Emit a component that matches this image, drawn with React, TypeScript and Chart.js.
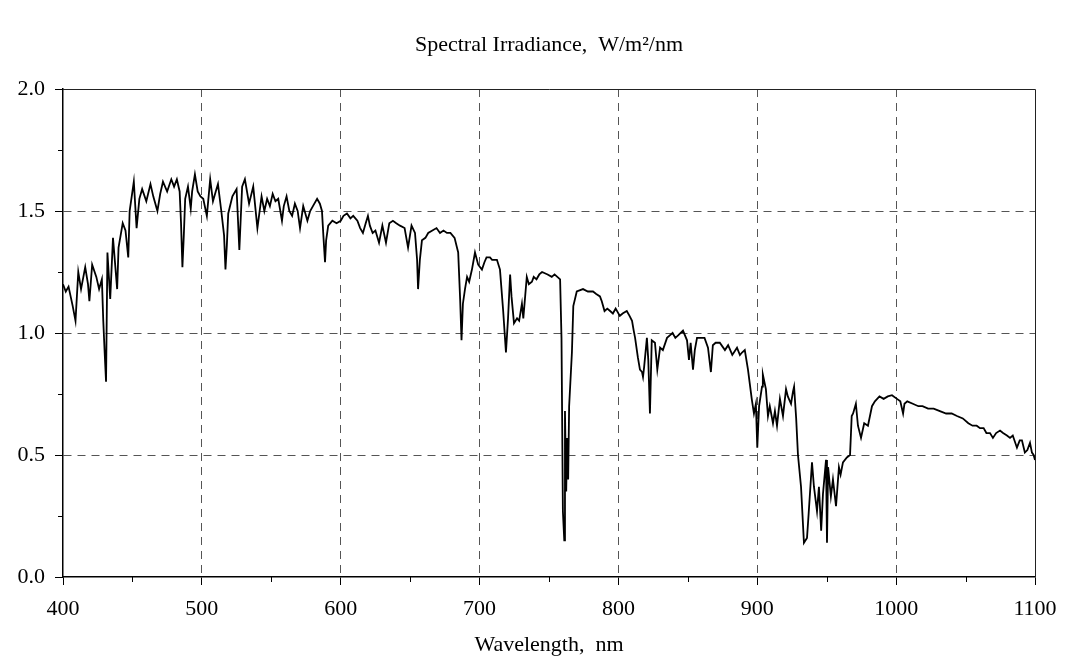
import React, { useEffect, useRef } from 'react';
import { Chart, registerables } from 'chart.js';

Chart.register(...registerables);

const wavelengths = [
  400, 402, 404, 407, 409, 411, 413, 416, 418, 419, 421, 424, 426, 428, 429, 430, 431, 432, 434, 436,
  439, 440, 443, 445, 447, 448, 451, 453, 455, 457, 460, 463, 465, 468, 470, 472, 475, 478, 480, 482,
  484, 485, 486, 487, 488, 490, 492, 493, 495, 497, 499, 501, 503.6, 506, 508, 510, 511.6, 514, 516, 517,
  518, 519, 522, 525, 527, 529, 531, 534, 537, 540, 543, 545, 547, 549, 551, 553, 555, 557.7, 559, 561,
  563, 565, 567, 569, 570.7, 573, 576, 578, 580, 583, 585, 586.5, 587.5, 588.7, 589.5, 591, 594, 597, 600, 602,
  604.5, 607, 609, 612, 614, 616, 618, 619.6, 621, 623, 625, 627.6, 630, 632.6, 635, 637.6, 640, 642.7, 646, 648.5,
  651, 653.5, 655, 655.7, 657, 658.5, 661, 663, 666, 669, 671.5, 674, 676.5, 679, 682, 684.6, 686, 687, 688, 689.5,
  691, 692.5, 694.5, 696.7, 699, 701.7, 703.5, 705, 707.5, 709, 712.5, 714.7, 717, 719, 720.5, 722, 723, 724.8, 727, 728.5,
  730.5, 731.5, 734, 735.5, 737.7, 739, 741, 743, 745, 749, 752, 754, 756, 758, 759, 760, 761, 761.5, 762.4, 763,
  763.8, 764.5, 766.5, 767.5, 770, 774.5, 778, 781.7, 784, 786.7, 788, 790, 792, 794, 796, 798, 801, 803, 806, 808,
  809.8, 811, 812, 814, 815.5, 817, 817.7, 818.5, 820.5, 821.5, 822.7, 824, 826.3, 828, 830, 832, 835, 837, 839, 841,
  843, 846.5, 849.4, 850.8, 852, 853.7, 855, 856.6, 859, 862, 864.5, 866.6, 868, 870, 873, 876.7, 879, 882, 885.4, 887.5,
  889, 891, 893.3, 896, 897.6, 899, 900, 901.3, 903.4, 904, 906.2, 907.7, 909, 911.3, 912.7, 914.2, 916.3, 918.5, 920.7, 922,
  924.3, 925.7, 926.5, 928, 929.3, 931.5, 933.6, 935.8, 937, 939.4, 940.8, 943, 944.4, 946, 947.3, 949.5, 950.2, 951, 953, 954.5,
  956.7, 958.8, 960, 961.7, 964.5, 966.8, 968, 969, 971, 972.5, 974.7, 977, 979.7, 982.6, 984.7, 988, 991, 994, 997, 1000.6,
  1003, 1005, 1006, 1008, 1012, 1016, 1019, 1023, 1027, 1031.5, 1036, 1040, 1043.8, 1048, 1052, 1055, 1058, 1060.4, 1063, 1065,
  1067.6, 1069.7, 1072, 1074.8, 1077, 1079.8, 1082, 1084, 1087, 1089, 1090.6, 1092.7, 1094.5, 1096.4, 1097.8, 1099, 1100,
];

const irradiance = [
  1.20, 1.17, 1.19, 1.11, 1.05, 1.25, 1.18, 1.27, 1.20, 1.13, 1.28, 1.23, 1.18, 1.22, 1.05, 0.92, 0.80, 1.33, 1.14, 1.39,
  1.18, 1.35, 1.45, 1.42, 1.31, 1.50, 1.62, 1.43, 1.55, 1.59, 1.54, 1.61, 1.56, 1.50, 1.57, 1.62, 1.58, 1.63, 1.60, 1.63,
  1.58, 1.45, 1.27, 1.40, 1.55, 1.60, 1.51, 1.58, 1.65, 1.58, 1.56, 1.55, 1.48, 1.63, 1.54, 1.58, 1.61, 1.50, 1.40, 1.26,
  1.36, 1.49, 1.56, 1.59, 1.34, 1.60, 1.63, 1.53, 1.60, 1.43, 1.56, 1.50, 1.55, 1.52, 1.57, 1.54, 1.55, 1.46, 1.52, 1.56,
  1.50, 1.48, 1.53, 1.50, 1.43, 1.52, 1.46, 1.50, 1.52, 1.55, 1.53, 1.50, 1.40, 1.29, 1.38, 1.44, 1.46, 1.45, 1.46, 1.48,
  1.49, 1.47, 1.48, 1.46, 1.43, 1.41, 1.45, 1.48, 1.44, 1.41, 1.42, 1.37, 1.44, 1.37, 1.45, 1.46, 1.45, 1.44, 1.43, 1.35,
  1.44, 1.41, 1.30, 1.18, 1.30, 1.38, 1.39, 1.41, 1.42, 1.43, 1.41, 1.42, 1.41, 1.41, 1.39, 1.33, 1.14, 0.97, 1.12, 1.18,
  1.23, 1.21, 1.26, 1.33, 1.28, 1.26, 1.29, 1.31, 1.31, 1.30, 1.30, 1.26, 1.09, 0.92, 1.06, 1.24, 1.15, 1.04, 1.06, 1.05,
  1.12, 1.06, 1.23, 1.20, 1.21, 1.23, 1.22, 1.24, 1.25, 1.24, 1.23, 1.24, 1.23, 1.22, 0.98, 0.27, 0.15, 0.68, 0.35, 0.57,
  0.40, 0.70, 0.92, 1.11, 1.17, 1.18, 1.17, 1.17, 1.16, 1.15, 1.13, 1.09, 1.10, 1.09, 1.08, 1.10, 1.07, 1.08, 1.09, 1.07,
  1.05, 1.01, 0.98, 0.90, 0.85, 0.84, 0.82, 0.86, 0.98, 0.89, 0.67, 0.97, 0.96, 0.85, 0.94, 0.93, 0.98, 0.99, 1.00, 0.98,
  0.99, 1.01, 0.97, 0.89, 0.96, 0.85, 0.93, 0.98, 0.98, 0.98, 0.94, 0.84, 0.95, 0.96, 0.96, 0.93, 0.95, 0.91, 0.94, 0.91,
  0.92, 0.93, 0.85, 0.73, 0.67, 0.71, 0.53, 0.70, 0.78, 0.83, 0.77, 0.66, 0.70, 0.63, 0.68, 0.62, 0.73, 0.66, 0.77, 0.74,
  0.71, 0.76, 0.78, 0.65, 0.50, 0.37, 0.14, 0.16, 0.26, 0.47, 0.37, 0.27, 0.37, 0.19, 0.34, 0.48, 0.14, 0.45, 0.33, 0.40,
  0.29, 0.45, 0.42, 0.47, 0.49, 0.50, 0.66, 0.67, 0.71, 0.62, 0.57, 0.63, 0.62, 0.70, 0.72, 0.74, 0.73, 0.74, 0.745, 0.73,
  0.72, 0.67, 0.71, 0.72, 0.71, 0.70, 0.70, 0.69, 0.69, 0.68, 0.67, 0.67, 0.66, 0.65, 0.63, 0.62, 0.62, 0.61, 0.61, 0.59,
  0.59, 0.57, 0.59, 0.60, 0.59, 0.58, 0.57, 0.58, 0.53, 0.56, 0.56, 0.51, 0.52, 0.55, 0.51, 0.50, 0.48,
];

const xMin = 400;
const xMax = 1100;
const xStep = 100;
const xMinorStep = 50;
const yMin = 0;
const yMax = 2;
const yStep = 0.5;
const yMinorStep = 0.25;

const titleText = 'Spectral Irradiance,  W/m\u00B2/nm';
const xTitleText = 'Wavelength,  nm';

const FONT = "'Liberation Serif', 'Times New Roman', serif";

export default function App() {
  const ref = useRef<HTMLCanvasElement | null>(null);

  useEffect(() => {
    if (!ref.current) return;

    const framePlugin = {
      id: 'frameAndMinorTicks',
      afterDraw(chart: any) {
        const { ctx, chartArea: a, scales } = chart;
        const xs = scales.x;
        const ys = scales.y;
        ctx.save();
        ctx.strokeStyle = '#222';
        ctx.lineWidth = 1;
        ctx.beginPath();
        ctx.moveTo(a.left, a.top + 0.5);
        ctx.lineTo(a.right + 0.5, a.top + 0.5);
        ctx.lineTo(a.right + 0.5, a.bottom);
        ctx.stroke();
        ctx.strokeStyle = '#000';
        ctx.lineWidth = 1;
        ctx.beginPath();
        for (let v = xMin + xMinorStep; v < xMax; v += xStep) {
          const px = Math.round(xs.getPixelForValue(v)) + 0.5;
          ctx.moveTo(px, a.bottom);
          ctx.lineTo(px, a.bottom + 5);
        }
        for (let v = yMin + yMinorStep; v < yMax; v += yStep) {
          const py = Math.round(ys.getPixelForValue(v)) + 0.5;
          ctx.moveTo(a.left, py);
          ctx.lineTo(a.left - 5, py);
        }
        ctx.stroke();
        ctx.restore();
      },
    };

    const points = wavelengths.map((w, i) => ({ x: w, y: irradiance[i] }));

    const chart = new Chart(ref.current, {
      type: 'line',
      data: {
        datasets: [
          {
            data: points,
            borderColor: '#000',
            borderWidth: 1.8,
            pointRadius: 0,
            tension: 0,
            fill: false,
          },
        ],
      },
      options: {
        animation: false,
        responsive: false,
        devicePixelRatio: 1,
        layout: { padding: { left: 0, right: 35, top: 0, bottom: 0 } },
        plugins: {
          legend: { display: false },
          tooltip: { enabled: false },
          title: {
            display: true,
            fullSize: false,
            text: titleText,
            color: '#000',
            font: { family: FONT, size: 22, weight: 'normal', lineHeight: 1.2 },
            padding: { top: 32, bottom: 30.6 },
          },
        },
        scales: {
          x: {
            type: 'linear',
            min: xMin,
            max: xMax,
            afterFit: (s: any) => {
              s.height = 91;
            },
            ticks: {
              stepSize: xStep,
              autoSkip: false,
              maxRotation: 0,
              color: '#000',
              padding: 11,
              font: { family: FONT, size: 22 },
              callback: (v: any) => String(v),
            },
            grid: {
              color: (c: any) =>
                c.tick && (c.tick.value === xMin || c.tick.value === xMax) ? 'rgba(0,0,0,0)' : '#555',
              lineWidth: 1,
              drawTicks: true,
              tickLength: 8,
              tickColor: '#000',
              tickBorderDash: [],
            },
            border: { display: true, color: '#000', width: 1.5, dash: [8, 6] },
            title: {
              display: true,
              text: xTitleText,
              color: '#000',
              font: { family: FONT, size: 22, lineHeight: 1.2 },
              padding: { top: 0, bottom: 10 },
            },
          },
          y: {
            type: 'linear',
            min: yMin,
            max: yMax,
            afterFit: (s: any) => {
              s.width = 63;
            },
            ticks: {
              stepSize: yStep,
              color: '#000',
              padding: 10,
              font: { family: FONT, size: 22 },
              callback: (v: any) => Number(v).toFixed(1),
            },
            grid: {
              color: (c: any) =>
                c.tick && (c.tick.value === yMin || c.tick.value === yMax) ? 'rgba(0,0,0,0)' : '#555',
              lineWidth: 1,
              drawTicks: true,
              tickLength: 8,
              tickColor: '#000',
              tickBorderDash: [],
            },
            border: { display: true, color: '#000', width: 1.5, dash: [8, 6] },
          },
        },
      },
      plugins: [framePlugin],
    } as any);

    return () => chart.destroy();
  }, []);

  return (
    <div style={{ position: 'fixed', left: 0, top: 0, width: 1070, height: 668, background: '#fff' }}>
      <canvas ref={ref} width={1070} height={668} style={{ display: 'block' }} />
    </div>
  );
}
